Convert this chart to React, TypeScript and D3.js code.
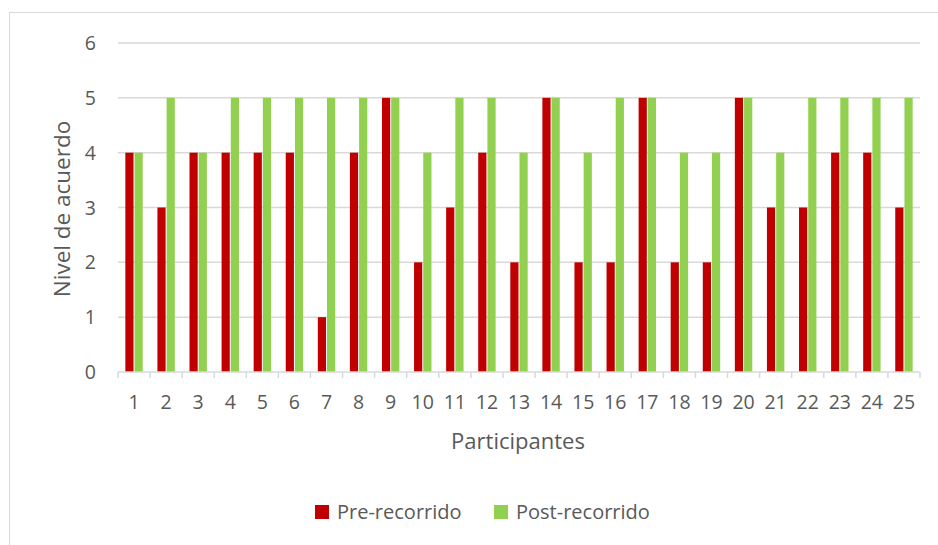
import React from "react";
import * as d3 from "d3";

const participants = Array.from({ length: 25 }, (_, i) => String(i + 1));
const preValues = [4, 3, 4, 4, 4, 4, 1, 4, 5, 2, 3, 4, 2, 5, 2, 2, 5, 2, 2, 5, 3, 3, 4, 4, 3];
const postValues = [4, 5, 4, 5, 5, 5, 5, 5, 5, 4, 5, 5, 4, 5, 4, 5, 5, 4, 4, 5, 4, 5, 5, 5, 5];
const yTicks = [0, 1, 2, 3, 4, 5, 6];
const seriesNames = ["Pre-recorrido", "Post-recorrido"];
const seriesColors = ["#C00000", "#92D050"];

const W = 938;
const H = 545;
const plot = { left: 118, right: 920, top: 43, bottom: 372 };
const FONT = "'Open Sans', 'Liberation Sans', sans-serif";
const TEXT = "#595959";
const GRID = "#d9d9d9";

export default function App() {
  const x = d3.scaleBand().domain(participants).range([plot.left, plot.right]);
  const y = d3.scaleLinear().domain([0, 6]).range([plot.bottom, plot.top]);
  const barW = 8.2;
  const innerGap = 1;
  const series = [preValues, postValues];

  return (
    <svg width={W} height={H} style={{ position: "absolute", left: 0, top: 0, background: "#fff" }}>
      <rect x={9.5} y={12.5} width={W + 10} height={H + 10} fill="#fff" stroke={GRID} strokeWidth={1} />
      {yTicks.map((t) => (
        <g key={t}>
          {t > 0 && (
            <line x1={plot.left} x2={plot.right} y1={y(t)} y2={y(t)} stroke={GRID} strokeWidth={1.5} />
          )}
          <text x={96} y={y(t)} dy="0.36em" textAnchor="end" fontFamily={FONT} fontSize={19.5} fill={TEXT}>
            {t}
          </text>
        </g>
      ))}
      {participants.map((p, i) => {
        const cx = (x(p) as number) + x.bandwidth() / 2;
        return (
          <g key={p}>
            {series.map((vals, s) => {
              const bx = s === 0 ? cx - innerGap / 2 - barW : cx + innerGap / 2;
              return (
                <rect
                  key={s}
                  x={bx}
                  y={y(vals[i])}
                  width={barW}
                  height={y(0) - y(vals[i])}
                  fill={seriesColors[s]}
                />
              );
            })}
            <text x={cx} y={402} dy="0.36em" textAnchor="middle" fontFamily={FONT} fontSize={19.5} fill={TEXT}>
              {p}
            </text>
          </g>
        );
      })}
      <line x1={plot.left} x2={plot.right} y1={plot.bottom} y2={plot.bottom} stroke={GRID} strokeWidth={1.5} />
      {[...participants.map((p) => x(p) as number), plot.right].map((tx, i) => (
        <line key={i} x1={tx} x2={tx} y1={plot.bottom} y2={plot.bottom + 6} stroke={GRID} strokeWidth={1.5} />
      ))}
      <text
        transform={`translate(62, 209) rotate(-90)`}
        textAnchor="middle"
        dy="0.36em"
        fontFamily={FONT}
        fontSize={22.5}
        fill={TEXT}
      >
        Nivel de acuerdo
      </text>
      <text x={518} y={441} dy="0.36em" textAnchor="middle" fontFamily={FONT} fontSize={22} fill={TEXT}>
        Participantes
      </text>
      {seriesNames.map((name, s) => {
        const lx = s === 0 ? 315 : 494;
        return (
          <g key={name}>
            <rect x={lx} y={505} width={14} height={14} fill={seriesColors[s]} />
            <text x={lx + 22} y={512} dy="0.36em" fontFamily={FONT} fontSize={20} fill={TEXT}>
              {name}
            </text>
          </g>
        );
      })}
    </svg>
  );
}
